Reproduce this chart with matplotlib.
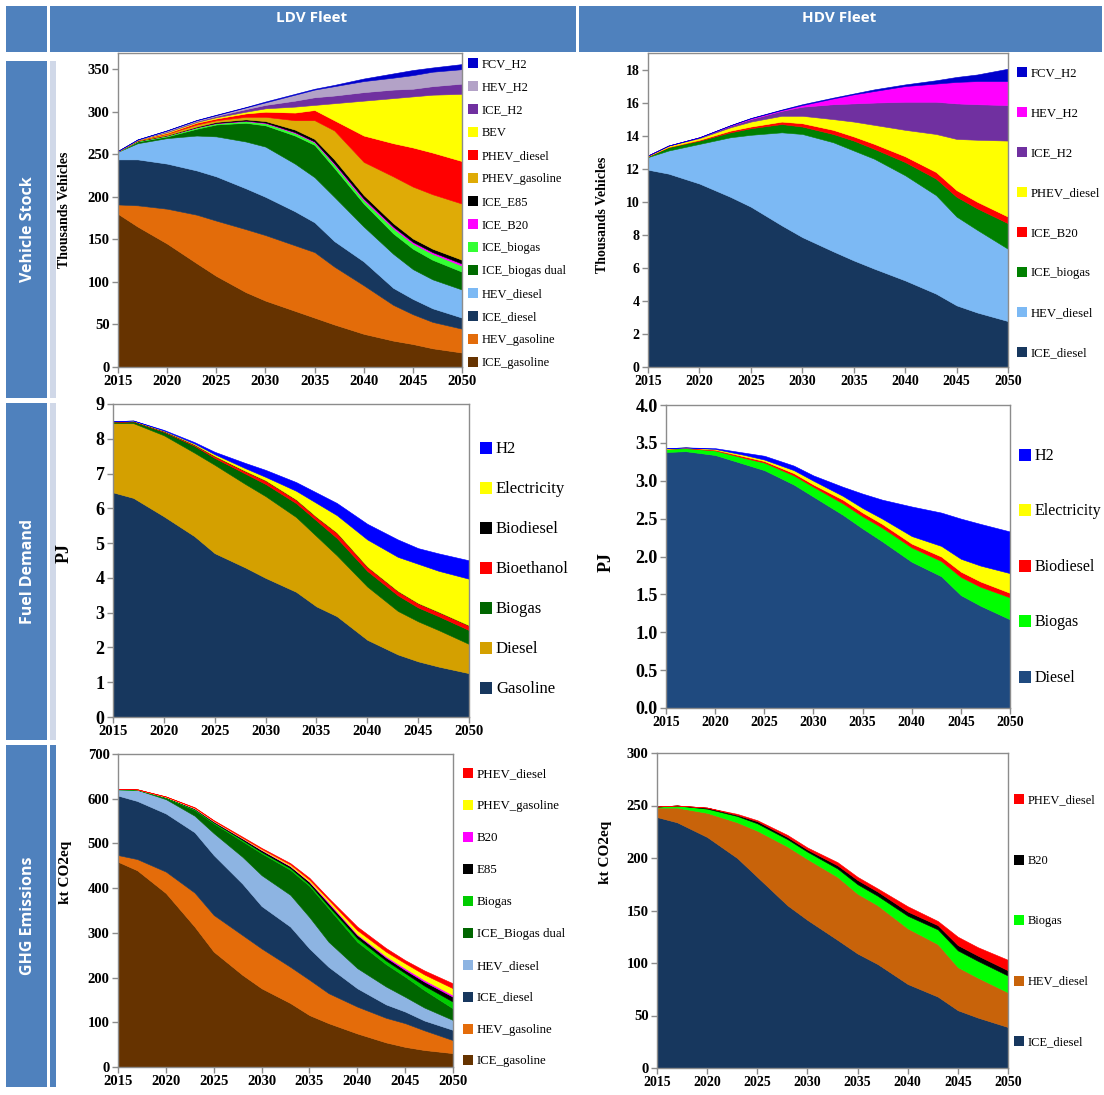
import matplotlib
matplotlib.use("Agg")
import matplotlib.pyplot as plt
from matplotlib.patches import Rectangle

plt.rcParams["font.family"] = ["Liberation Serif", "DejaVu Serif"]

# ----- DATA -----
years = [2015, 2017, 2020, 2023, 2025, 2028, 2030, 2033, 2035, 2037, 2040, 2043, 2045, 2047, 2050]

# LDV vehicle stock (thousands vehicles), bottom layer first
ldv_ice_gasoline = [180, 165, 145, 122, 107, 88, 78, 66, 58, 50, 39, 31, 27, 22, 17]
ldv_hev_gasoline = [11, 25, 41, 57, 65, 74, 77, 77, 77, 68, 57, 42, 35, 31, 28]
ldv_ice_diesel = [53, 54, 53, 52, 52, 48, 45, 40, 35, 30, 28, 20, 18, 16, 13]
ldv_hev_diesel = [9, 19, 30, 41, 47, 55, 59, 56, 53, 52, 41, 40, 35, 34, 33]
ldv_ice_biogas_dual = [0, 2, 2, 8, 14, 22, 25, 33, 38, 34, 27, 24, 24, 23, 21]
ldv_ice_biogas = [0.3, 0.7, 1, 1.5, 1.5, 2, 2.5, 3, 3, 4, 4, 6, 6, 7, 7]
ldv_ice_b20 = [0.1, 0.1, 0.2, 0.3, 0.3, 0.5, 0.7, 1, 1, 1.5, 2, 2, 2, 2, 2.5]
ldv_ice_e85 = [0.1, 0.2, 0.3, 0.7, 1.2, 1.5, 1.8, 3, 3, 4.5, 4, 4, 4, 4, 4.5]
ldv_phev_gasoline = [0.1, 0.5, 1.5, 2.5, 2, 3, 5, 11, 22, 34, 39, 55, 61, 64, 66]
ldv_phev_diesel = [0.1, 0.3, 1, 2, 2, 4, 6, 9, 12, 12, 31, 39, 46, 49, 50]
ldv_bev = [0.1, 0.2, 1, 1, 1.5, 2, 4, 7, 6, 20, 41, 53, 60, 68, 79]
ldv_ice_h2 = [0.1, 0.2, 1, 1, 1.5, 3, 4, 7, 9, 9, 10, 10, 9, 10, 12]
ldv_hev_h2 = [0.1, 0.2, 1, 1, 1, 2, 3, 7, 9, 11, 13, 14, 16, 17, 17]
ldv_fcv_h2 = [0, 0.1, 0.2, 0.3, 0.5, 0.5, 1, 1, 1, 1.5, 3, 5, 6, 5, 6]

# HDV vehicle stock (thousands vehicles)
hdv_ice_diesel = [11.94, 11.7, 11.1, 10.3, 9.7, 8.57, 7.86, 7.0, 6.45, 5.95, 5.24, 4.44, 3.73, 3.3, 2.78]
hdv_hev_diesel = [0.76, 1.4, 2.4, 3.6, 4.35, 5.63, 6.24, 6.6, 6.65, 6.65, 6.36, 5.96, 5.37, 5.0, 4.37]
hdv_ice_biogas = [0.05, 0.2, 0.2, 0.3, 0.4, 0.5, 0.45, 0.5, 0.6, 0.6, 0.8, 1.0, 1.2, 1.3, 1.55]
hdv_ice_b20 = [0.02, 0.02, 0.05, 0.1, 0.1, 0.15, 0.2, 0.25, 0.25, 0.3, 0.35, 0.4, 0.4, 0.4, 0.4]
hdv_phev_diesel = [0.03, 0.08, 0.1, 0.2, 0.3, 0.35, 0.45, 0.65, 0.9, 1.15, 1.6, 2.3, 3.1, 3.75, 4.6]
hdv_ice_h2 = [0, 0, 0.05, 0.1, 0.15, 0.3, 0.55, 0.9, 1.1, 1.35, 1.7, 1.95, 2.15, 2.15, 2.15]
hdv_hev_h2 = [0, 0, 0, 0.02, 0.05, 0.05, 0.1, 0.35, 0.55, 0.7, 0.95, 1.1, 1.3, 1.4, 1.45]
hdv_fcv_h2 = [0, 0, 0, 0.01, 0.02, 0.03, 0.05, 0.05, 0.05, 0.1, 0.1, 0.2, 0.3, 0.4, 0.75]

# LDV fuel demand (PJ)
ldv_fuel_gasoline = [6.46, 6.3, 5.77, 5.2, 4.71, 4.3, 4.0, 3.6, 3.18, 2.9, 2.22, 1.8, 1.6, 1.45, 1.26]
ldv_fuel_diesel = [1.99, 2.15, 2.33, 2.4, 2.54, 2.4, 2.35, 2.15, 2.02, 1.75, 1.53, 1.25, 1.15, 1.05, 0.84]
ldv_fuel_biogas = [0.03, 0.05, 0.1, 0.2, 0.2, 0.3, 0.35, 0.4, 0.45, 0.5, 0.45, 0.45, 0.4, 0.4, 0.4]
ldv_fuel_bioethanol = [0.01, 0.01, 0.02, 0.03, 0.05, 0.07, 0.1, 0.1, 0.1, 0.15, 0.12, 0.12, 0.12, 0.12, 0.13]
ldv_fuel_biodiesel = [0.005, 0.005, 0.005, 0.005, 0.005, 0.005, 0.005, 0.005, 0.005, 0.005, 0.005, 0.005, 0.005, 0.005, 0.005]
ldv_fuel_electricity = [0.01, 0.01, 0.01, 0.03, 0.05, 0.08, 0.1, 0.25, 0.4, 0.5, 0.78, 0.98, 1.13, 1.18, 1.34]
ldv_fuel_h2 = [0, 0, 0.02, 0.04, 0.07, 0.15, 0.2, 0.25, 0.3, 0.35, 0.45, 0.5, 0.45, 0.5, 0.53]

# HDV fuel demand (PJ)
hdv_fuel_diesel = [3.38, 3.39, 3.34, 3.22, 3.14, 2.95, 2.79, 2.55, 2.37, 2.2, 1.93, 1.74, 1.49, 1.35, 1.17]
hdv_fuel_biogas = [0.04, 0.04, 0.06, 0.08, 0.1, 0.12, 0.13, 0.15, 0.16, 0.18, 0.19, 0.2, 0.24, 0.25, 0.29]
hdv_fuel_biodiesel = [0.0, 0.01, 0.01, 0.02, 0.02, 0.03, 0.03, 0.05, 0.05, 0.05, 0.05, 0.06, 0.07, 0.07, 0.06]
hdv_fuel_electricity = [0.01, 0.0, 0.01, 0.02, 0.02, 0.04, 0.05, 0.05, 0.06, 0.07, 0.1, 0.14, 0.17, 0.21, 0.26]
hdv_fuel_h2 = [0, 0, 0.01, 0.03, 0.05, 0.06, 0.07, 0.12, 0.19, 0.25, 0.39, 0.44, 0.53, 0.55, 0.55]

# LDV GHG emissions (kt CO2eq)
ldv_ghg_ice_gasoline = [459, 440, 389, 314, 258, 206, 176, 143, 116, 98, 75, 55, 45, 38, 31]
ldv_ghg_hev_gasoline = [15, 25, 48, 76, 82, 89, 89, 81, 79, 67, 60, 55, 53, 44, 29]
ldv_ghg_ice_diesel = [133, 130, 130, 135, 134, 115, 95, 90, 70, 59, 41, 30, 26, 22, 23]
ldv_ghg_hev_diesel = [14, 25, 32, 37, 49, 60, 69, 71, 70, 56, 45, 40, 33, 29, 22]
ldv_ghg_biogas_dual = [0, 0, 3, 13, 22, 35, 49, 56, 70, 75, 59, 50, 45, 39, 26]
ldv_ghg_biogas = [1, 1, 1, 2, 2, 3, 3, 4, 4, 5, 8, 8, 8, 10, 15]
ldv_ghg_e85 = [0, 0, 1, 1, 2, 3, 4, 4, 5, 6, 7, 7, 7, 9, 11]
ldv_ghg_b20 = [0, 0, 0, 1, 1, 1, 1, 1, 1, 3, 2, 3, 4, 4, 4]
ldv_ghg_phev_gasoline = [0, 0, 1, 1, 1, 1, 2, 3, 4, 5, 9, 10, 11, 12, 15]
ldv_ghg_phev_diesel = [0, 0, 0, 1, 1, 2, 2, 3, 4, 4, 8, 8, 7, 9, 11]

# HDV GHG emissions (kt CO2eq)
hdv_ghg_ice_diesel = [239, 234, 220, 200, 182, 155, 141, 122, 109, 99, 80, 68, 55, 48, 39]
hdv_ghg_hev_diesel = [9, 14, 23, 34, 44, 56, 58, 60, 57, 56, 53, 50, 41, 38, 33]
hdv_ghg_biogas = [1, 2, 4, 6, 7, 7, 7, 8, 9, 9, 12, 14, 16, 16, 16]
hdv_ghg_b20 = [0, 0, 1, 1, 2, 2, 2, 3, 4, 4, 4, 4, 5, 5, 5]
hdv_ghg_phev_diesel = [0, 0, 0, 1, 1, 2, 2, 3, 3, 3, 5, 4, 8, 8, 10]

# ----- FIGURE HELPERS (pixel based layout) -----
W, H = 1104, 1095
fig = plt.figure(figsize=(W / 100, H / 100), dpi=100)
HEAD = "#4F81BD"
STRIP = "#D0D8E8"
GREY = "#8C8C8C"


def px_axes(x0, y0, x1, y1):
    return fig.add_axes([x0 / W, 1 - y1 / H, (x1 - x0) / W, (y1 - y0) / H])


def px_rect(x0, y0, x1, y1, color):
    fig.patches.append(Rectangle((x0 / W, 1 - y1 / H), (x1 - x0) / W, (y1 - y0) / H,
                                 transform=fig.transFigure, facecolor=color,
                                 edgecolor="none", zorder=0))


def px_text(x, y, s, **kw):
    fig.text(x / W, 1 - y / H, s, **kw)


def area_panel(box, series, colors, ylim, yticks, yfmt, ysize, xsize):
    ax = px_axes(*box)
    polys = ax.stackplot(years, series, colors=colors, linewidth=0.4)
    for p, c in zip(polys, colors):
        p.set_edgecolor(c)
    ax.set_xlim(2015, 2050)
    ax.set_ylim(*ylim)
    ax.set_xticks(range(2015, 2051, 5))
    ax.set_xticklabels([str(y) for y in range(2015, 2051, 5)], fontsize=xsize, fontweight="bold")
    ax.set_yticks(yticks)
    ax.set_yticklabels([yfmt.format(v) for v in yticks], fontsize=ysize, fontweight="bold")
    for s in ax.spines.values():
        s.set_color(GREY)
        s.set_linewidth(1)
    ax.tick_params(direction="out", length=4, width=1, color=GREY, pad=2)
    return ax


def legend_px(x, y_first, step, labels, colors, size, box):
    # top layer is listed first
    for i, (lab, col) in enumerate(zip(labels[::-1], colors[::-1])):
        y = y_first + i * step
        px_rect(x, y - box / 2, x + box, y + box / 2, col)
        px_text(x + box + 4, y + 1, lab, fontsize=size, va="center")


# ----- HEADER BANDS -----
px_rect(6, 6, 47, 52, HEAD)
px_rect(50, 6, 576, 52, HEAD)
px_rect(579, 6, 1102, 52, HEAD)
px_text(312, 18, "LDV Fleet", fontsize=11, color="white", fontweight="bold",
        family="Open Sans", ha="center", va="center")
px_text(839, 18, "HDV Fleet", fontsize=11, color="white", fontweight="bold",
        family="Open Sans", ha="center", va="center")

rows = [("Vehicle Stock", 61, 398, STRIP), ("Fuel Demand", 403, 740, STRIP),
        ("GHG Emissions", 745, 1087, HEAD)]
for name, y0, y1, strip in rows:
    px_rect(6, y0, 47, y1, HEAD)
    px_rect(50, y0, 56, y1, strip)
    px_text(28, (y0 + y1) / 2, name, fontsize=11.5, color="white", fontweight="bold",
            family="Open Sans", rotation=90, ha="center", va="center")

# ----- PLOTS -----

# plot 1 - LDV vehicle stock
p1_labels = ["ICE_gasoline", "HEV_gasoline", "ICE_diesel", "HEV_diesel", "ICE_biogas dual",
             "ICE_biogas", "ICE_B20", "ICE_E85", "PHEV_gasoline", "PHEV_diesel", "BEV",
             "ICE_H2", "HEV_H2", "FCV_H2"]
p1_colors = ["#663300", "#E36C0A", "#17375E", "#7CB9F4", "#006B00", "#33FF33", "#FF00FF",
             "#000000", "#DFAB06", "#FF0000", "#FFFF00", "#7030A0", "#B3A2C7", "#0000CC"]
p1_series = [ldv_ice_gasoline, ldv_hev_gasoline, ldv_ice_diesel, ldv_hev_diesel,
             ldv_ice_biogas_dual, ldv_ice_biogas, ldv_ice_b20, ldv_ice_e85, ldv_phev_gasoline,
             ldv_phev_diesel, ldv_bev, ldv_ice_h2, ldv_hev_h2, ldv_fcv_h2]
area_panel((118, 53, 462, 367), p1_series, p1_colors, (0, 369), range(0, 351, 50), "{}", 10.5, 10.5)
legend_px(468, 62.7, 23.0, p1_labels, p1_colors, 9, 10)
px_text(65, 210, "Thousands Vehicles", fontsize=10, fontweight="bold", rotation=90,
        ha="center", va="center")

# plot 2 - HDV vehicle stock
p2_labels = ["ICE_diesel", "HEV_diesel", "ICE_biogas", "ICE_B20", "PHEV_diesel",
             "ICE_H2", "HEV_H2", "FCV_H2"]
p2_colors = ["#17375E", "#7CB9F4", "#008000", "#FF0000", "#FFFF00", "#7030A0", "#FF00FF", "#0000CC"]
p2_series = [hdv_ice_diesel, hdv_hev_diesel, hdv_ice_biogas, hdv_ice_b20, hdv_phev_diesel,
             hdv_ice_h2, hdv_hev_h2, hdv_fcv_h2]
area_panel((648, 53, 1008, 367), p2_series, p2_colors, (0, 19), range(0, 19, 2), "{}", 10, 10)
legend_px(1017, 71.7, 40.0, p2_labels, p2_colors, 9.2, 10)
px_text(603, 215, "Thousands Vehicles", fontsize=10, fontweight="bold", rotation=90,
        ha="center", va="center")

# plot 3 - LDV fuel demand
p3_labels = ["Gasoline", "Diesel", "Biogas", "Bioethanol", "Biodiesel", "Electricity", "H2"]
p3_colors = ["#17375E", "#D4A000", "#006600", "#FF0000", "#000000", "#FFFF00", "#0000FF"]
p3_series = [ldv_fuel_gasoline, ldv_fuel_diesel, ldv_fuel_biogas, ldv_fuel_bioethanol,
             ldv_fuel_biodiesel, ldv_fuel_electricity, ldv_fuel_h2]
area_panel((113, 404, 469, 717), p3_series, p3_colors, (0, 9), range(0, 10), "{}", 13, 10.5)
legend_px(480, 448, 40.05, p3_labels, p3_colors, 12, 12)
px_text(64, 553, "PJ", fontsize=13, fontweight="bold", rotation=90, ha="center", va="center")

# plot 4 - HDV fuel demand
p4_labels = ["Diesel", "Biogas", "Biodiesel", "Electricity", "H2"]
p4_colors = ["#1F4A7F", "#00FF00", "#FF0000", "#FFFF00", "#0000FF"]
p4_series = [hdv_fuel_diesel, hdv_fuel_biogas, hdv_fuel_biodiesel, hdv_fuel_electricity, hdv_fuel_h2]
area_panel((666, 405, 1010, 708), p4_series, p4_colors, (0, 4),
           [0, 0.5, 1, 1.5, 2, 2.5, 3, 3.5, 4], "{:.1f}", 13, 10)
legend_px(1019, 455, 55.4, p4_labels, p4_colors, 11.5, 12)
px_text(606, 562, "PJ", fontsize=13, fontweight="bold", rotation=90, ha="center", va="center")

# plot 5 - LDV GHG emissions
p5_labels = ["ICE_gasoline", "HEV_gasoline", "ICE_diesel", "HEV_diesel", "ICE_Biogas dual",
             "Biogas", "E85", "B20", "PHEV_gasoline", "PHEV_diesel"]
p5_colors = ["#663300", "#E46C0A", "#17375E", "#8DB4E2", "#006600", "#00CC00", "#000000",
             "#FF00FF", "#FFFF00", "#FF0000"]
p5_series = [ldv_ghg_ice_gasoline, ldv_ghg_hev_gasoline, ldv_ghg_ice_diesel, ldv_ghg_hev_diesel,
             ldv_ghg_biogas_dual, ldv_ghg_biogas, ldv_ghg_e85, ldv_ghg_b20,
             ldv_ghg_phev_gasoline, ldv_ghg_phev_diesel]
area_panel((118, 754, 453, 1067), p5_series, p5_colors, (0, 700), range(0, 701, 100), "{}", 10.5, 10.5)
legend_px(463, 773.3, 31.9, p5_labels, p5_colors, 9.3, 10)
px_text(66, 872, "kt CO2eq", fontsize=11, fontweight="bold", rotation=90, ha="center", va="center")

# plot 6 - HDV GHG emissions
p6_labels = ["ICE_diesel", "HEV_diesel", "Biogas", "B20", "PHEV_diesel"]
p6_colors = ["#17375E", "#C8630A", "#00FF00", "#000000", "#FF0000"]
p6_series = [hdv_ghg_ice_diesel, hdv_ghg_hev_diesel, hdv_ghg_biogas, hdv_ghg_b20, hdv_ghg_phev_diesel]
area_panel((657, 753, 1008, 1068), p6_series, p6_colors, (0, 300), range(0, 301, 50), "{}", 10.5, 10)
legend_px(1014, 799.3, 60.4, p6_labels, p6_colors, 9, 10)
px_text(605, 852, "kt CO2eq", fontsize=11, fontweight="bold", rotation=90, ha="center", va="center")

plt.savefig("out.png", dpi=100)
print("done! saved the chart")
